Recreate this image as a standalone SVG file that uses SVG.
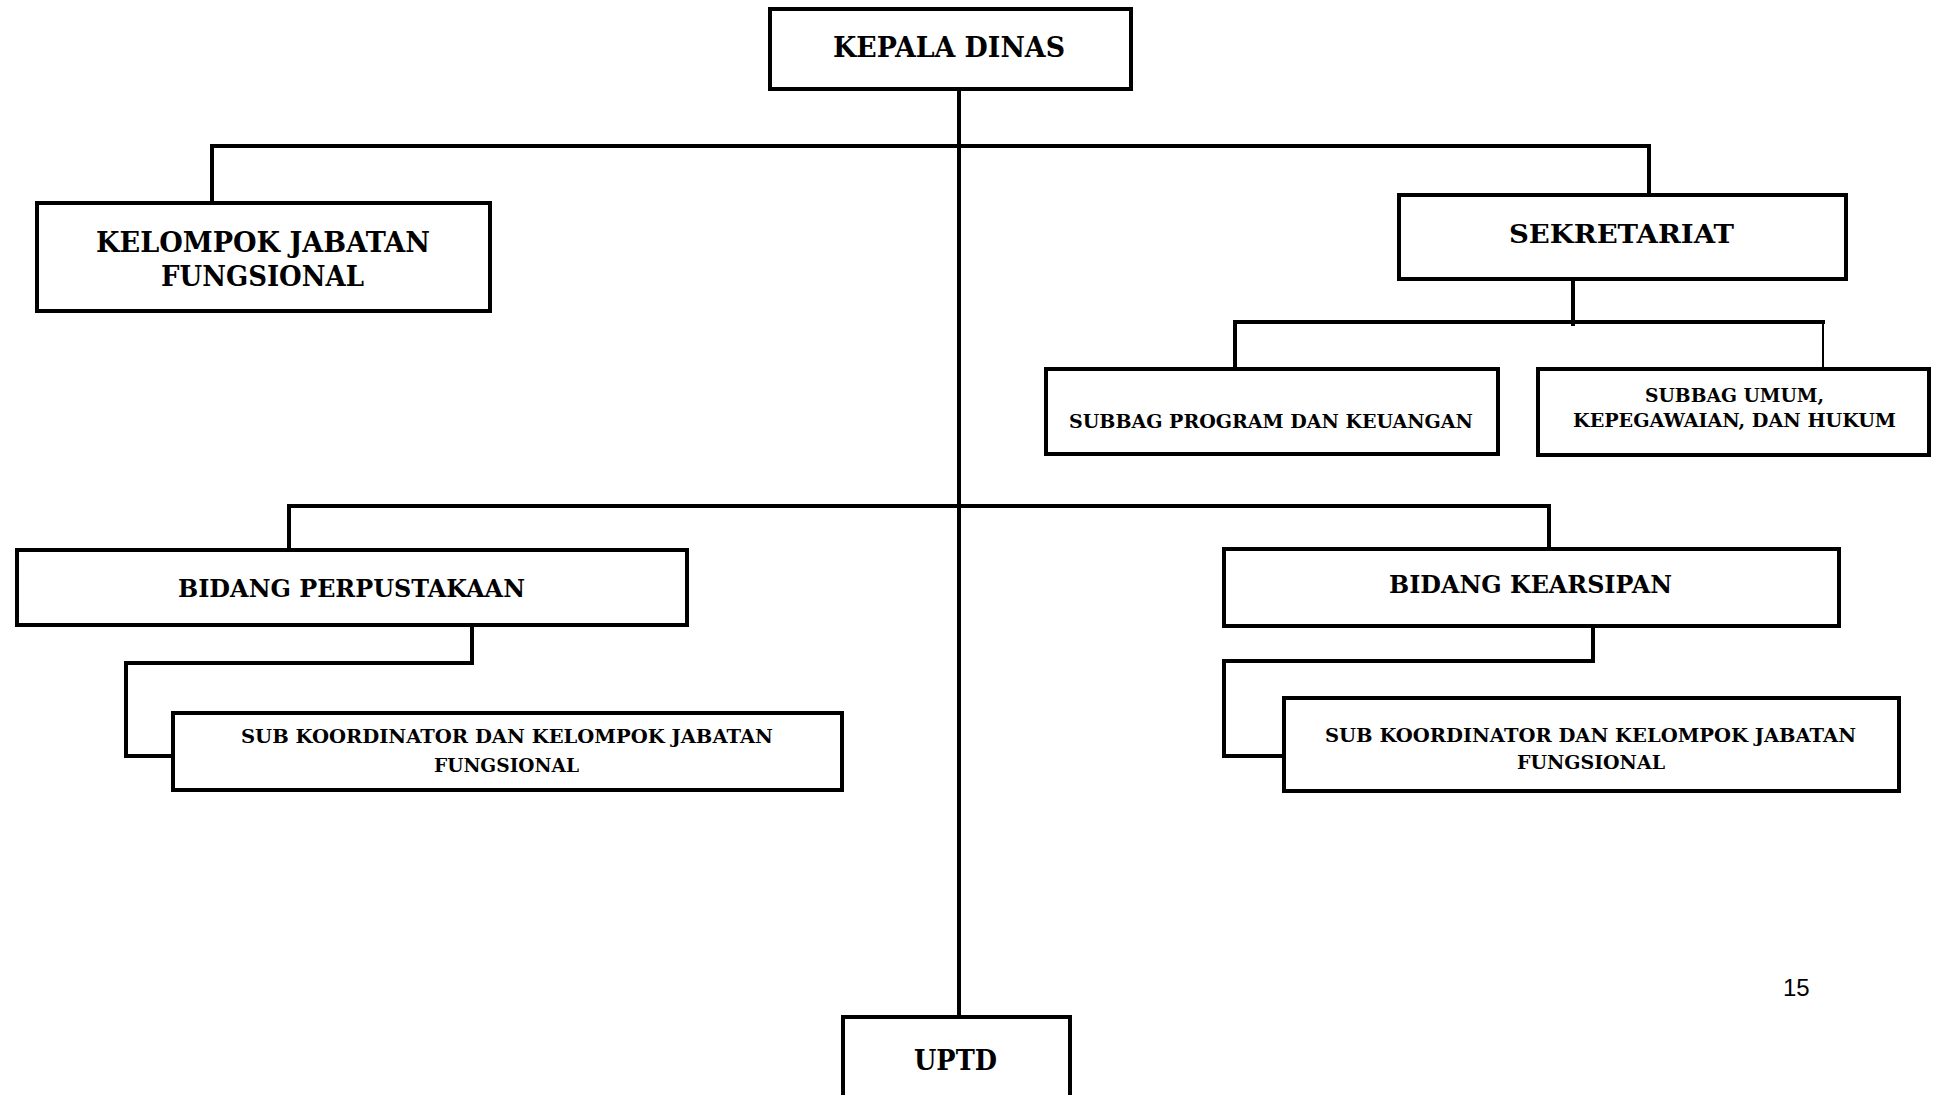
<svg xmlns="http://www.w3.org/2000/svg" width="1937" height="1095" viewBox="0 0 1937 1095">
<style>
.box{fill:#fff;stroke:#000;stroke-width:4}
.ln{fill:none;stroke:#000;stroke-width:4;stroke-linecap:square}
.t{font-family:"DejaVu Serif","Liberation Serif",serif;font-weight:bold;fill:#000}
.num{font-family:"Liberation Sans","Open Sans",sans-serif;fill:#000}
</style>
<rect width="1937" height="1095" fill="#fff"/>
<g id="connectors">
<line class="ln" x1="959" y1="89" x2="959" y2="1017"/>
<polyline class="ln" points="212,203 212,146 1649,146 1649,195"/>
<line class="ln" x1="1573" y1="279" x2="1573" y2="324"/>
<polyline class="ln" points="1235,369 1235,322 1823,322"/>
<line x1="1823" y1="322" x2="1823" y2="371" stroke="#000" stroke-width="2"/>
<polyline class="ln" points="289,550 289,506 1549,506 1549,549"/>
<polyline class="ln" points="472,625 472,663 126,663 126,756 173,756"/>
<polyline class="ln" points="1593,627 1593,661 1224,661 1224,756 1284,756"/>
</g>
<g id="kepala-dinas">
<rect class="box" x="770" y="9" width="361" height="80"/>
<text class="t" x="833" y="57" font-size="27" textLength="232" lengthAdjust="spacingAndGlyphs">KEPALA DINAS</text>
</g>
<g id="kelompok-jabatan-fungsional">
<rect class="box" x="37" y="203" width="453" height="108"/>
<text class="t" x="96" y="252" font-size="27" textLength="334" lengthAdjust="spacingAndGlyphs">KELOMPOK JABATAN</text>
<text class="t" x="161" y="286" font-size="27" textLength="203" lengthAdjust="spacingAndGlyphs">FUNGSIONAL</text>
</g>
<g id="sekretariat">
<rect class="box" x="1399" y="195" width="447" height="84"/>
<text class="t" x="1509" y="243" font-size="26" textLength="225" lengthAdjust="spacingAndGlyphs">SEKRETARIAT</text>
</g>
<g id="subbag-program">
<rect class="box" x="1046" y="369" width="452" height="85"/>
<text class="t" x="1069" y="428" font-size="18" textLength="404" lengthAdjust="spacingAndGlyphs">SUBBAG PROGRAM DAN KEUANGAN</text>
</g>
<g id="subbag-umum">
<rect class="box" x="1538" y="369" width="391" height="86"/>
<text class="t" x="1645" y="402" font-size="18" textLength="179" lengthAdjust="spacingAndGlyphs">SUBBAG UMUM,</text>
<text class="t" x="1573" y="427" font-size="18" textLength="323" lengthAdjust="spacingAndGlyphs">KEPEGAWAIAN, DAN HUKUM</text>
</g>
<g id="bidang-perpustakaan">
<rect class="box" x="17" y="550" width="670" height="75"/>
<text class="t" x="178" y="597" font-size="24" textLength="347" lengthAdjust="spacingAndGlyphs">BIDANG PERPUSTAKAAN</text>
</g>
<g id="bidang-kearsipan">
<rect class="box" x="1224" y="549" width="615" height="77"/>
<text class="t" x="1389" y="593" font-size="24" textLength="283" lengthAdjust="spacingAndGlyphs">BIDANG KEARSIPAN</text>
</g>
<g id="sub-koordinator-perpustakaan">
<rect class="box" x="173" y="713" width="669" height="77"/>
<text class="t" x="241" y="743" font-size="18" textLength="532" lengthAdjust="spacingAndGlyphs">SUB KOORDINATOR DAN KELOMPOK JABATAN</text>
<text class="t" x="434" y="772" font-size="18" textLength="145" lengthAdjust="spacingAndGlyphs">FUNGSIONAL</text>
</g>
<g id="sub-koordinator-kearsipan">
<rect class="box" x="1284" y="698" width="615" height="93"/>
<text class="t" x="1325" y="742" font-size="18" textLength="531" lengthAdjust="spacingAndGlyphs">SUB KOORDINATOR DAN KELOMPOK JABATAN</text>
<text class="t" x="1517" y="769" font-size="18" textLength="148" lengthAdjust="spacingAndGlyphs">FUNGSIONAL</text>
</g>
<g id="uptd">
<rect class="box" x="843" y="1017" width="227" height="100"/>
<text class="t" x="914" y="1070" font-size="27" textLength="83" lengthAdjust="spacingAndGlyphs">UPTD</text>
</g>
<text class="num" x="1783" y="996" font-size="24">15</text>
</svg>
